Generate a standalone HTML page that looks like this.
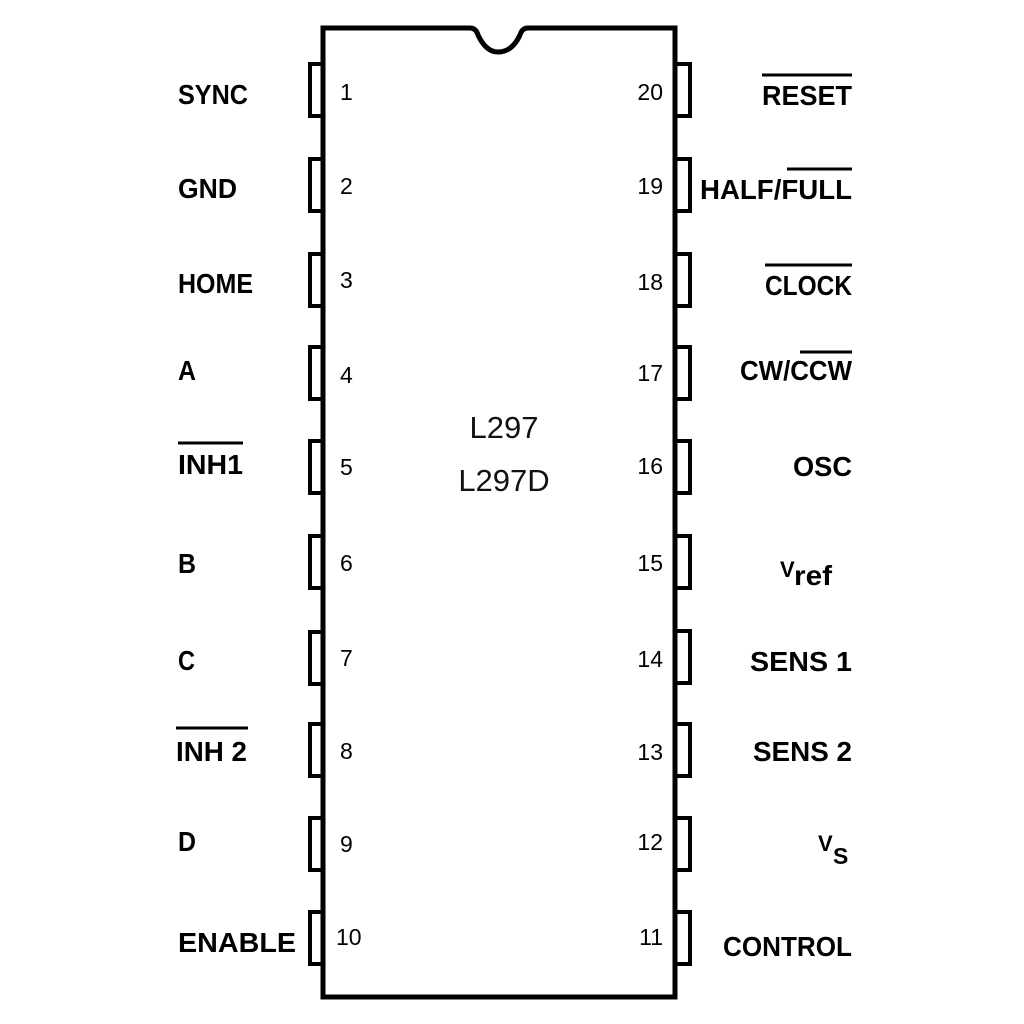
<!DOCTYPE html>
<html><head><meta charset="utf-8"><style>
html,body{margin:0;padding:0;background:#fff;}
svg{display:block;}
.l{font-family:"Liberation Sans",sans-serif;font-weight:bold;font-size:28px;fill:#000;}
.n{font-family:"Liberation Sans",sans-serif;font-size:23px;fill:#000;}
.c{font-family:"Liberation Sans",sans-serif;font-size:31px;fill:#111;}
</style></head><body>
<svg width="1024" height="1024" viewBox="0 0 1024 1024" xmlns="http://www.w3.org/2000/svg">
<rect width="1024" height="1024" fill="#fff"/>
<path d="M323 28 L470 28 Q476 28 478 35 Q486 52 498 52 Q512 52 520 35 Q522 28 528 28 L675 28 L675 997 L323 997 Z" fill="#fff" stroke="#000" stroke-width="5"/>
<g fill="none" stroke="#000" stroke-width="4">
<path d="M323 64 H310 V116 H323"/>
<path d="M323 159 H310 V211 H323"/>
<path d="M323 254 H310 V306 H323"/>
<path d="M323 347 H310 V399 H323"/>
<path d="M323 441 H310 V493 H323"/>
<path d="M323 536 H310 V588 H323"/>
<path d="M323 632 H310 V684 H323"/>
<path d="M323 724 H310 V776 H323"/>
<path d="M323 818 H310 V870 H323"/>
<path d="M323 912 H310 V964 H323"/>
<path d="M675 64 H690 V116 H675"/>
<path d="M675 159 H690 V211 H675"/>
<path d="M675 254 H690 V306 H675"/>
<path d="M675 347 H690 V399 H675"/>
<path d="M675 441 H690 V493 H675"/>
<path d="M675 536 H690 V588 H675"/>
<path d="M675 631 H690 V683 H675"/>
<path d="M675 724 H690 V776 H675"/>
<path d="M675 818 H690 V870 H675"/>
<path d="M675 912 H690 V964 H675"/>
</g>
<g class="l">
<text x="178" y="104" textLength="70" lengthAdjust="spacingAndGlyphs">SYNC</text>
<text x="178" y="198" textLength="59" lengthAdjust="spacingAndGlyphs">GND</text>
<text x="178" y="293" textLength="75" lengthAdjust="spacingAndGlyphs">HOME</text>
<text x="178" y="380" textLength="18" lengthAdjust="spacingAndGlyphs">A</text>
<text x="178" y="474" textLength="65" lengthAdjust="spacingAndGlyphs">INH1</text>
<text x="178" y="573" textLength="18" lengthAdjust="spacingAndGlyphs">B</text>
<text x="178" y="670" textLength="17" lengthAdjust="spacingAndGlyphs">C</text>
<text x="176" y="761" textLength="71" lengthAdjust="spacingAndGlyphs">INH 2</text>
<text x="178" y="851" textLength="18" lengthAdjust="spacingAndGlyphs">D</text>
<text x="178" y="952" textLength="118" lengthAdjust="spacingAndGlyphs">ENABLE</text>
</g>
<g stroke="#000" stroke-width="3">
<line x1="178" y1="443" x2="243" y2="443"/>
<line x1="176" y1="728" x2="248" y2="728"/>
<line x1="762" y1="75" x2="852" y2="75"/>
<line x1="787" y1="169" x2="852" y2="169"/>
<line x1="765" y1="265" x2="852" y2="265"/>
<line x1="800" y1="352" x2="852" y2="352"/>
</g>
<g class="l" text-anchor="end">
<text x="852" y="105" textLength="90" lengthAdjust="spacingAndGlyphs">RESET</text>
<text x="852" y="199" textLength="152" lengthAdjust="spacingAndGlyphs">HALF/FULL</text>
<text x="852" y="295" textLength="87" lengthAdjust="spacingAndGlyphs">CLOCK</text>
<text x="852" y="380" textLength="112" lengthAdjust="spacingAndGlyphs">CW/CCW</text>
<text x="852" y="476" textLength="59" lengthAdjust="spacingAndGlyphs">OSC</text>
<text x="852" y="671" textLength="102" lengthAdjust="spacingAndGlyphs">SENS 1</text>
<text x="852" y="761" textLength="99" lengthAdjust="spacingAndGlyphs">SENS 2</text>
<text x="852" y="956" textLength="129" lengthAdjust="spacingAndGlyphs">CONTROL</text>
</g>
<g class="l">
<text x="780" y="577" style="font-size:22px">V</text>
<text x="794" y="585" textLength="38" lengthAdjust="spacingAndGlyphs">ref</text>
<text x="818" y="851" style="font-size:22px">V</text>
<text x="833" y="864" style="font-size:23px">S</text>
</g>
<g class="n">
<text x="340" y="100">1</text>
<text x="340" y="194">2</text>
<text x="340" y="288">3</text>
<text x="340" y="383">4</text>
<text x="340" y="475">5</text>
<text x="340" y="571">6</text>
<text x="340" y="666">7</text>
<text x="340" y="759">8</text>
<text x="340" y="852">9</text>
<text x="336" y="945">10</text>
</g>
<g class="n" text-anchor="end">
<text x="663" y="100">20</text>
<text x="663" y="194">19</text>
<text x="663" y="290">18</text>
<text x="663" y="381">17</text>
<text x="663" y="474">16</text>
<text x="663" y="571">15</text>
<text x="663" y="667">14</text>
<text x="663" y="760">13</text>
<text x="663" y="850">12</text>
<text x="663" y="945">11</text>
</g>
<g class="c" text-anchor="middle">
<text x="504" y="438">L297</text>
<text x="504" y="491">L297D</text>
</g>
</svg>
</body></html>
